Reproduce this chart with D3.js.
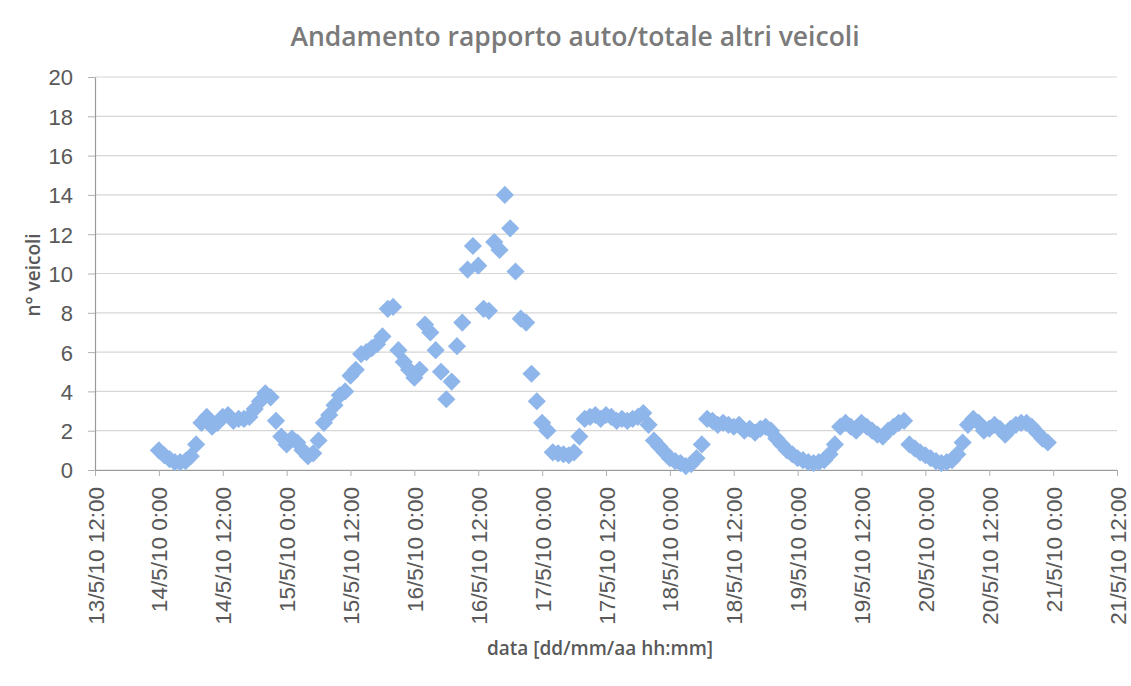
<!DOCTYPE html>
<html>
<head>
<meta charset="utf-8">
<script src="https://cdn.jsdelivr.net/npm/d3@7/dist/d3.min.js"></script>
<style>
  html, body { margin: 0; padding: 0; background: #ffffff; }
  svg { display: block; }
  .tick text { font-family: "Liberation Sans", "DejaVu Sans", sans-serif; fill: #595959; }
</style>
</head>
<body>
<svg id="chart" width="1131" height="686"></svg>
<script>
// Hourly ratio of cars to all other vehicles, first reading 14/5/10 0:00
const firstReading = Date.UTC(2010, 4, 14, 0);
const ratio = [
  1.0, 0.75, 0.55, 0.4, 0.4, 0.45, 0.7, 1.3, 2.4, 2.7, 2.2, 2.4,
  2.7, 2.8, 2.5, 2.6, 2.6, 2.7, 3.1, 3.5, 3.9, 3.7, 2.5, 1.7,
  1.3, 1.6, 1.4, 1.0, 0.7, 0.85, 1.5, 2.4, 2.8, 3.3, 3.8, 4.0,
  4.8, 5.1, 5.9, 6.0, 6.2, 6.4, 6.8, 8.2, 8.3, 6.1, 5.5, 5.1,
  4.7, 5.1, 7.4, 7.0, 6.1, 5.0, 3.6, 4.5, 6.3, 7.5, 10.2, 11.4,
  10.4, 8.2, 8.1, 11.6, 11.2, 14.0, 12.3, 10.1, 7.7, 7.5, 4.9, 3.5,
  2.4, 2.0, 0.9, 0.85, 0.8, 0.75, 0.9, 1.7, 2.6, 2.7, 2.8, 2.6,
  2.8, 2.7, 2.5, 2.6, 2.5, 2.6, 2.7, 2.9, 2.3, 1.5, 1.2, 0.9,
  0.6, 0.45, 0.35, 0.2, 0.3, 0.6, 1.3, 2.6, 2.5, 2.3, 2.4, 2.3,
  2.2, 2.3, 2.0, 2.1, 1.9, 2.1, 2.2, 2.0, 1.6, 1.3, 1.0, 0.8,
  0.6, 0.5, 0.4, 0.35, 0.4, 0.5, 0.8, 1.3, 2.2, 2.4, 2.2, 2.0,
  2.4, 2.2, 2.0, 1.8, 1.7, 2.0, 2.2, 2.4, 2.5, 1.3, 1.1, 0.9,
  0.75, 0.6, 0.45, 0.35, 0.4, 0.5, 0.8, 1.4, 2.3, 2.6, 2.4, 2.0,
  2.1, 2.3, 2.1, 1.8, 2.1, 2.3, 2.4, 2.4, 2.2, 1.9, 1.6, 1.4
];
const timeDomain = [Date.UTC(2010, 4, 13, 12), Date.UTC(2010, 4, 21, 12)];
const yDomain = [0, 20];
const yTickValues = [0, 2, 4, 6, 8, 10, 12, 14, 16, 18, 20];

const titleText = "Andamento rapporto auto/totale altri veicoli";
const xTitleText = "data [dd/mm/aa hh:mm]";
const yTitleText = "n° veicoli";

const points = ratio.map((v, i) => ({ t: d3.utcHour.offset(new Date(firstReading), i), v }));

const svg = d3.select("#chart");
const plot = { left: 95, right: 1117, top: 77, bottom: 470 };

const x = d3.scaleUtc().domain(timeDomain.map(d => new Date(d))).range([plot.left, plot.right]);
const y = d3.scaleLinear().domain(yDomain).range([plot.bottom, plot.top]);

// horizontal gridlines
svg.append("g")
  .selectAll("line")
  .data(yTickValues)
  .join("line")
  .attr("x1", plot.left).attr("x2", plot.right)
  .attr("y1", d => y(d)).attr("y2", d => y(d))
  .attr("stroke", "#d6d6d6").attr("stroke-width", 1.2);

// y axis
const yAxis = svg.append("g")
  .attr("transform", `translate(${plot.left},0)`)
  .call(d3.axisLeft(y).tickValues(yTickValues).tickSize(7).tickSizeOuter(0).tickPadding(15));
yAxis.select(".domain").attr("stroke", "#9a9a9a").attr("stroke-width", 1.2);
yAxis.selectAll(".tick line").attr("stroke", "#b0b0b0");
yAxis.selectAll(".tick text").attr("font-size", 22).attr("dy", "0.36em");

// x axis
const xFormat = d3.utcFormat("%-d/%-m/%y %-H:%M");
const xAxis = svg.append("g")
  .attr("transform", `translate(0,${plot.bottom})`)
  .call(d3.axisBottom(x).ticks(d3.utcHour.every(12)).tickFormat(xFormat).tickSize(6).tickSizeOuter(0));
xAxis.select(".domain").attr("stroke", "#9a9a9a").attr("stroke-width", 1.2);
xAxis.selectAll(".tick line").attr("stroke", "#b0b0b0");
xAxis.selectAll(".tick text")
  .attr("font-size", 22.5)
  .attr("text-anchor", "end")
  .attr("transform", "rotate(-90)")
  .attr("x", -17)
  .attr("y", 0)
  .attr("dy", "0.36em");

// diamond markers
const diamond = d3.symbol().type(d3.symbolSquare).size(165);
svg.append("g")
  .selectAll("path")
  .data(points)
  .join("path")
  .attr("d", diamond)
  .attr("transform", d => `translate(${x(d.t)},${y(d.v)}) rotate(45)`)
  .attr("fill", "#8fb6ea");

// titles
svg.append("text")
  .attr("x", 575).attr("y", 46)
  .attr("text-anchor", "middle")
  .attr("font-family", "'Open Sans', 'Liberation Sans', sans-serif")
  .attr("font-weight", 600)
  .attr("font-size", 26.5)
  .attr("fill", "#7a7a7a")
  .text(titleText);

svg.append("text")
  .attr("x", 600).attr("y", 655)
  .attr("text-anchor", "middle")
  .attr("font-family", "'Open Sans', 'Liberation Sans', sans-serif")
  .attr("font-weight", 600)
  .attr("font-size", 19)
  .attr("fill", "#595959")
  .text(xTitleText);

svg.append("text")
  .attr("transform", "translate(40,275) rotate(-90)")
  .attr("text-anchor", "middle")
  .attr("font-family", "'Open Sans', 'Liberation Sans', sans-serif")
  .attr("font-weight", 600)
  .attr("font-size", 19)
  .attr("fill", "#595959")
  .text(yTitleText);
</script>
</body>
</html>
